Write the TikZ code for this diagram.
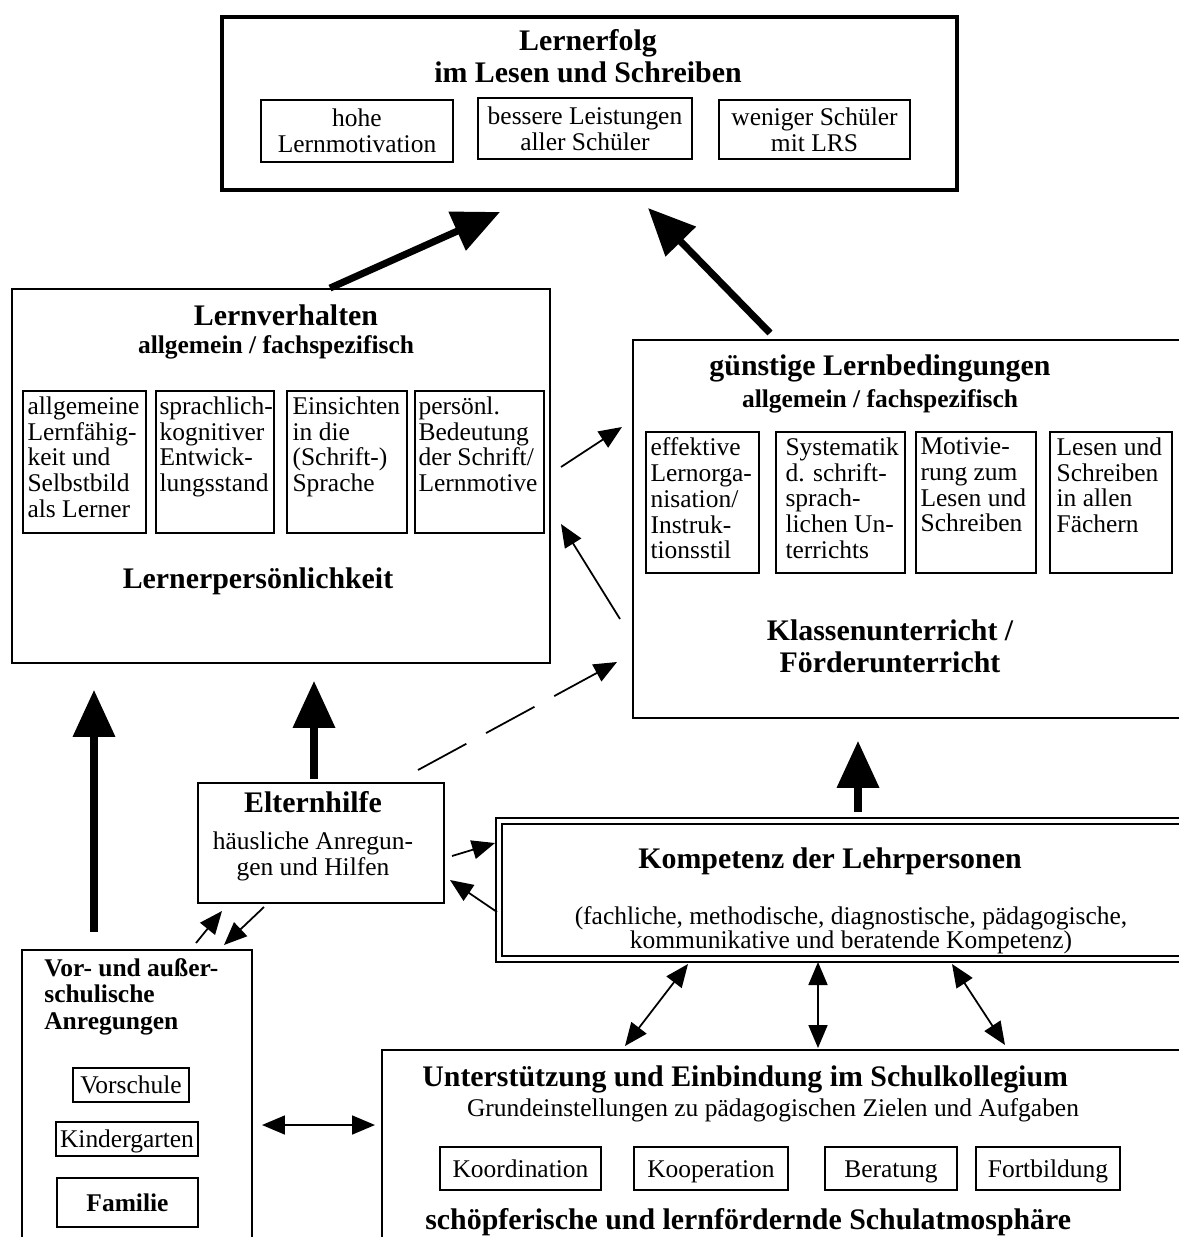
\documentclass[tikz,border=0pt]{standalone}
\usepackage{fontspec}
\setmainfont{Liberation Serif}
\usetikzlibrary{arrows.meta,positioning}
\newcommand{\ttlfont}{\fontsize{17}{18}\selectfont\bfseries}
\newcommand{\subtfont}{\fontsize{14.5}{15}\selectfont\bfseries}
\newcommand{\txtfont}{\fontsize{14.5}{14.7}\selectfont}

\begin{document}
\begin{tikzpicture}[
    x=0.02cm, y=-0.02cm,
    box/.style={draw, line width=1.1pt, inner sep=0pt},
    inbox/.style={draw, line width=0.9pt, inner sep=0pt, align=center, font=\txtfont},
    oneline/.style={text height=12pt, text depth=2pt},
    itext/.style={anchor=north west, align=left, inner sep=0pt, font=\txtfont},
    ttl/.style={inner sep=0pt, align=center, font=\ttlfont},
    subttl/.style={inner sep=0pt, align=center, font=\subtfont},
    big/.style={-{Triangle[length=0.94cm, width=0.82cm]}, line width=4pt},
    lite/.style={-{Triangle[length=0.46cm, width=0.38cm]}, line width=1pt},
    twoway/.style={{Triangle[length=0.46cm, width=0.38cm]}-{Triangle[length=0.46cm, width=0.38cm]}, line width=1pt}
]
    \useasboundingbox (0,0) rectangle (1178,1237);

    % Lernerfolg
    \node[box, line width=2pt, minimum width=14.7cm, minimum height=3.46cm] (lf) at (589.5,103.5) {};
    \node[ttl] (lf-t) at (588,56) {Lernerfolg\\im Lesen und Schreiben};
    \node[inbox, minimum width=3.84cm, minimum height=1.24cm] (lf1) at (357,131) {hohe\\Lernmotivation};
    \node[inbox, minimum width=4.28cm, minimum height=1.22cm] (lf2) at (585,128.5) {bessere Leistungen\\aller Schüler};
    \node[inbox, minimum width=3.82cm, minimum height=1.18cm] (lf3) at (814.5,129.5) {weniger Schüler\\mit LRS};

    % Lernverhalten
    \node[box, minimum width=10.76cm, minimum height=7.48cm] (lv) at (281,476) {};
    \node[ttl] (lv-t) at (286,315) {Lernverhalten};
    \node[subttl] (lv-s) at (276,347) {allgemein / fachspezifisch};
    \node[inbox, minimum width=2.46cm, minimum height=2.84cm] (lv1) at (84.5,462) {};
    \node[inbox, minimum width=2.36cm, minimum height=2.84cm] (lv2) at (215,462) {};
    \node[inbox, minimum width=2.4cm, minimum height=2.84cm] (lv3) at (347,462) {};
    \node[inbox, minimum width=2.58cm, minimum height=2.84cm] (lv4) at (479.5,462) {};
    \node[itext] (lv1-t) at ([shift={(5,6)}]lv1.north west) {allgemeine\\Lernfähig-\\keit und\\Selbstbild\\als Lerner};
    \node[itext] (lv2-t) at ([shift={(4,6)}]lv2.north west) {sprachlich-\\kognitiver\\Entwick-\\lungsstand};
    \node[itext] (lv3-t) at ([shift={(6,6)}]lv3.north west) {Einsichten\\in die\\(Schrift-)\\Sprache};
    \node[itext] (lv4-t) at ([shift={(4,6)}]lv4.north west) {persönl.\\Bedeutung\\der Schrift/\\Lernmotive};
    \node[ttl] (lv-b) at (258,581) {Lernerpersönlichkeit};

    % guenstige Lernbedingungen
    \node[box, minimum width=11.34cm, minimum height=7.56cm] (gb) at (916.5,529) {};
    \node[ttl] (gb-t) at (880,368) {günstige Lernbedingungen};
    \node[subttl] (gb-s) at (880,401) {allgemein / fachspezifisch};
    \node[inbox, minimum width=2.26cm, minimum height=2.82cm] (gb1) at (702.5,502.5) {};
    \node[inbox, minimum width=2.58cm, minimum height=2.82cm] (gb2) at (840.5,502.5) {};
    \node[inbox, minimum width=2.4cm, minimum height=2.82cm] (gb3) at (976,502.5) {};
    \node[inbox, minimum width=2.44cm, minimum height=2.82cm] (gb4) at (1111,502.5) {};
    \node[itext] (gb1-t) at ([shift={(5,6)}]gb1.north west) {effektive\\Lernorga-\\nisation/\\Instruk-\\tionsstil};
    \node[itext] (gb2-t) at ([shift={(10,6)}]gb2.north west) {Systematik\\d. schrift-\\sprach-\\lichen Un-\\terrichts};
    \node[itext] (gb3-t) at ([shift={(5,6)}]gb3.north west) {Motivie-\\rung zum\\Lesen und\\Schreiben};
    \node[itext] (gb4-t) at ([shift={(7,6)}]gb4.north west) {Lesen und\\Schreiben\\in allen\\Fächern};
    \node[ttl] (gb-b) at (890,646) {Klassenunterricht /\\Förderunterricht};

    % Elternhilfe
    \node[box, minimum width=4.92cm, minimum height=2.4cm] (eh) at (321,843) {};
    \node[ttl] (eh-t) at (313,802) {Elternhilfe};
    \node[inner sep=0pt, align=center, font=\txtfont] (eh-s) at (313,856) {häusliche Anregun-\\gen und Hilfen};

    % Kompetenz der Lehrpersonen
    \node[draw, double, double distance=2.6pt, line width=0.8pt, inner sep=0pt,
          minimum width=14.02cm, minimum height=2.76cm] (kp) at (849.5,890) {};
    \node[ttl] (kp-t) at (830,861) {Kompetenz der Lehrpersonen};
    \node[inner sep=0pt, align=center, font=\fontsize{14.5}{13.6}\selectfont] (kp-s) at (851,930)
        {(fachliche, methodische, diagnostische, pädagogische,\\kommunikative und beratende Kompetenz)};

    % Vor- und ausserschulische Anregungen
    \node[box, minimum width=4.6cm, minimum height=6.2cm] (va) at (137,1105) {};
    \node[anchor=north west, inner sep=0pt, align=left, font=\subtfont] (va-t) at (44,958) {Vor- und außer-\\schulische\\Anregungen};
    \node[inbox, oneline, minimum width=2.32cm, minimum height=0.68cm] (va1) at (131,1085) {Vorschule};
    \node[inbox, oneline, minimum width=2.84cm, minimum height=0.68cm] (va2) at (127,1139) {Kindergarten};
    \node[inbox, oneline, minimum width=2.82cm, minimum height=0.98cm, font=\subtfont] (va3) at (127.5,1202.5) {Familie};

    % Schulkollegium
    \node[box, minimum width=16.36cm, minimum height=4.2cm] (us) at (791,1155) {};
    \node[ttl, anchor=west] (us-t) at (422,1079) {Unterstützung und Einbindung im Schulkollegium};
    \node[inner sep=0pt, font=\txtfont] (us-s) at (773,1110) {Grundeinstellungen zu pädagogischen Zielen und Aufgaben};
    \node[inbox, oneline, minimum width=3.22cm, minimum height=0.86cm] (us1) at (520.5,1168.5) {Koordination};
    \node[inbox, oneline, minimum width=3.08cm, minimum height=0.86cm] (us2) at (711,1168.5) {Kooperation};
    \node[inbox, oneline, minimum width=2.64cm, minimum height=0.86cm] (us3) at (891,1168.5) {Beratung};
    \node[inbox, oneline, minimum width=2.88cm, minimum height=0.86cm] (us4) at (1048,1168.5) {Fortbildung};
    \node[ttl, anchor=west] (us-b) at (425,1222) {schöpferische und lernfördernde Schulatmosphäre};

    % arrow ends
    \coordinate (lv-lf) at (500,212);
    \coordinate (gb-up) at (770,333);
    \coordinate (gb-lf) at (648,208);
    \coordinate (lv-r) at (561,467);
    \coordinate (gb-l) at (622,427);
    \coordinate (gb-bl) at (620,619);
    \coordinate (lv-br) at (561,524);
    \coordinate (eh-dash) at (418,770);
    \coordinate (gb-dash) at (617,662);
    \coordinate (eh-r1) at (452,856);
    \coordinate (kp-l1) at (495,843);
    \coordinate (kp-l2) at (497,912);
    \coordinate (eh-r2) at (450,880);
    \coordinate (va-up1) at (196,943);
    \coordinate (eh-bl) at (222,911);
    \coordinate (eh-bm) at (264,907);
    \coordinate (va-up2) at (224,945);
    \coordinate (va-r) at (262,1125);
    \coordinate (us-l) at (375,1125);
    \coordinate (kp-b1) at (688,964);
    \coordinate (us-t1) at (625,1046);
    \coordinate (kp-b2) at (818,962);
    \coordinate (us-t2) at (818,1048);
    \coordinate (kp-b3) at (952,964);
    \coordinate (us-t3) at (1005,1045);

    % connectors
    \draw[big] (330,0 |- lv.north) -- (lv-lf);
    \draw[big] (gb-up) -- (gb-lf);
    \draw[big, shorten <=0.34cm, shorten >=0.52cm] (94,0 |- va.north) -- (94,0 |- lv.south);
    \draw[big, shorten <=0.06cm, shorten >=0.34cm] (314,0 |- eh.north) -- (314,0 |- lv.south);
    \draw[big, shorten <=0.16cm, shorten >=0.44cm] (858,0 |- kp.north) -- (858,0 |- gb.south);
    \draw[lite] (lv-r) -- (gb-l);
    \draw[lite] (gb-bl) -- (lv-br);
    \draw[lite, dash pattern=on 1.1cm off 0.45cm] (eh-dash) -- (gb-dash);
    \draw[lite] (eh-r1) -- (kp-l1);
    \draw[lite] (kp-l2) -- (eh-r2);
    \draw[lite] (va-up1) -- (eh-bl);
    \draw[lite] (eh-bm) -- (va-up2);
    \draw[twoway] (va-r) -- (us-l);
    \draw[twoway] (kp-b1) -- (us-t1);
    \draw[twoway] (kp-b2) -- (us-t2);
    \draw[twoway] (kp-b3) -- (us-t3);
\end{tikzpicture}
\end{document}
